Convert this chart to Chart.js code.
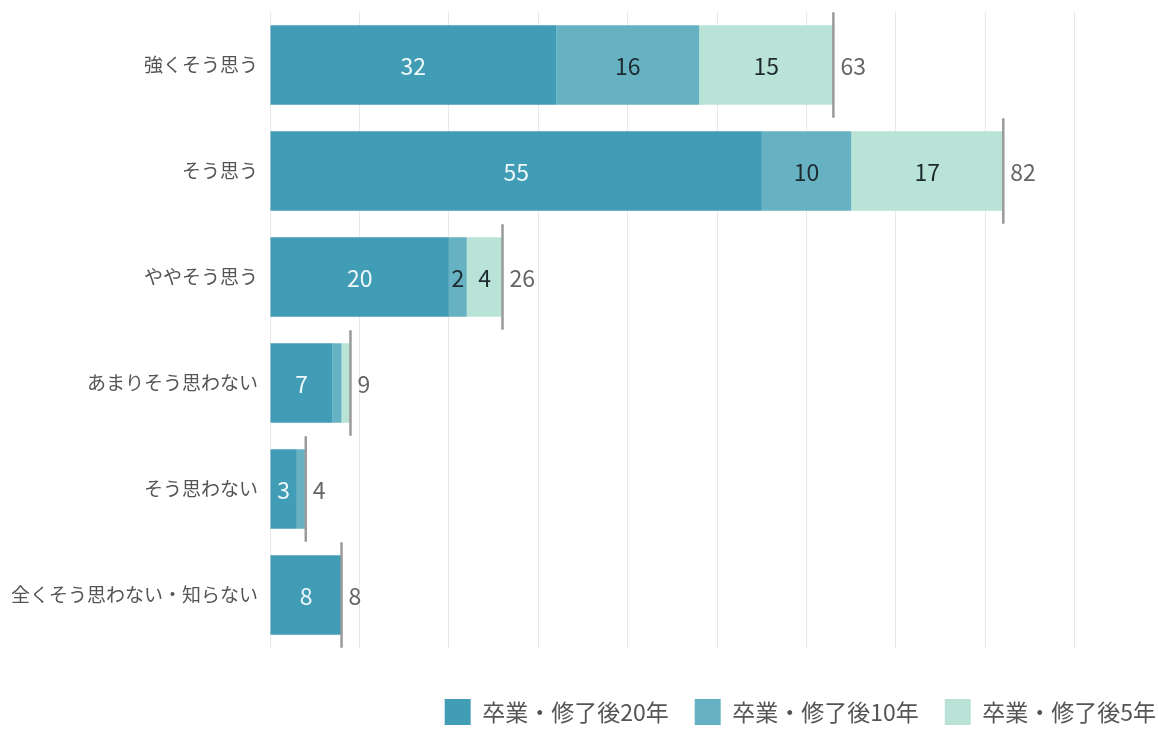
<!DOCTYPE html>
<html>
<head>
<meta charset="utf-8">
<script src="https://cdn.jsdelivr.net/npm/chart.js@4"></script>
<style>
  html, body { margin: 0; padding: 0; background: #fff; }
  #wrap { width: 1158px; height: 729px; }
</style>
</head>
<body>
<div id="wrap"><canvas id="myChart"></canvas></div>
<script>
var categories = ['強くそう思う', 'そう思う', 'ややそう思う', 'あまりそう思わない', 'そう思わない', '全くそう思わない・知らない'];
var seriesNames = ['卒業・修了後20年', '卒業・修了後10年', '卒業・修了後5年'];
var after20 = [32, 55, 20, 7, 3, 8];
var after10 = [16, 10, 2, 1, 1, 0];
var after5 = [15, 17, 4, 1, 0, 0];
var colors = ['#409db5', '#67b2c2', '#b9e3d7'];
var xTicks = [0, 10, 20, 30, 40, 50, 60, 70, 80, 90];

var totals = categories.map(function (c, i) { return after20[i] + after10[i] + after5[i]; });
var FONT = '"Noto Sans CJK JP", "Noto Sans", sans-serif';

// value labels inside the segments and the total marker at the end of each bar
var labelPlugin = {
    id: 'labels',
    afterLayout: function (chart) {
        // legend sits flush with the right edge
        if (chart.legend) {
            chart.legend.left += 24;
            chart.legend.right += 24;
        }
    },
    afterDatasetsDraw: function (chart) {
        var ctx = chart.ctx;
        var x = chart.scales.x;
        ctx.save();
        ctx.font = '23px ' + FONT;
        ctx.textBaseline = 'middle';
        ctx.textAlign = 'center';
        chart.data.datasets.forEach(function (ds, d) {
            var meta = chart.getDatasetMeta(d);
            meta.data.forEach(function (bar, i) {
                var v = ds.data[i];
                if (v < 2) return;
                var p = bar.getCenterPoint();
                ctx.fillStyle = d === 0 ? '#eef8fa' : '#1d2a2f';
                ctx.fillText(v, p.x, p.y + 1);
            });
        });
        var first = chart.getDatasetMeta(0);
        totals.forEach(function (t, i) {
            var bar = first.data[i];
            var px = x.getPixelForValue(t);
            var h = bar.height;
            ctx.strokeStyle = '#9a9a9a';
            ctx.lineWidth = 2.5;
            ctx.beginPath();
            ctx.moveTo(px, bar.y - h / 2 - 13);
            ctx.lineTo(px, bar.y + h / 2 + 13);
            ctx.stroke();
            ctx.fillStyle = '#666';
            ctx.textAlign = 'left';
            ctx.fillText(t, px + 7, bar.y + 1);
        });
        ctx.restore();
    }
};

var ctx = document.getElementById('myChart').getContext('2d');
var myChart = new Chart(ctx, {
    type: 'bar',
    data: {
        labels: categories,
        datasets: [
            { label: seriesNames[0], data: after20, backgroundColor: colors[0] },
            { label: seriesNames[1], data: after10, backgroundColor: colors[1] },
            { label: seriesNames[2], data: after5, backgroundColor: colors[2] }
        ]
    },
    options: {
        indexAxis: 'y',
        responsive: true,
        maintainAspectRatio: false,
        animation: false,
        datasets: {
            bar: { categoryPercentage: 0.75, barPercentage: 1, borderWidth: 0 }
        },
        layout: {
            padding: { top: 12, right: 0, bottom: 0, left: 0 }
        },
        plugins: {
            tooltip: { enabled: false },
            legend: {
                position: 'bottom',
                align: 'end',
                maxHeight: 56,
                labels: {
                    boxWidth: 26,
                    boxHeight: 26,
                    padding: 26,
                    color: '#555',
                    font: { family: FONT, size: 23 }
                }
            }
        },
        scales: {
            x: {
                stacked: true,
                min: 0,
                max: 99.3,
                afterBuildTicks: function (scale) {
                    scale.ticks = xTicks.map(function (v) { return { value: v }; });
                },
                afterFit: function (scale) { scale.height = 25; },
                ticks: { display: false },
                border: { display: false },
                grid: { color: '#e8e8e8', lineWidth: 1, drawTicks: false }
            },
            y: {
                stacked: true,
                afterFit: function (scale) {
                    scale.width = 270;
                    scale.paddingTop = 0;
                    scale.paddingBottom = 0;
                },
                ticks: {
                    padding: 12,
                    color: '#555',
                    font: { family: FONT, size: 19 }
                },
                border: { display: false },
                grid: { display: false, drawTicks: false }
            }
        }
    },
    plugins: [labelPlugin]
});
</script>
</body>
</html>
